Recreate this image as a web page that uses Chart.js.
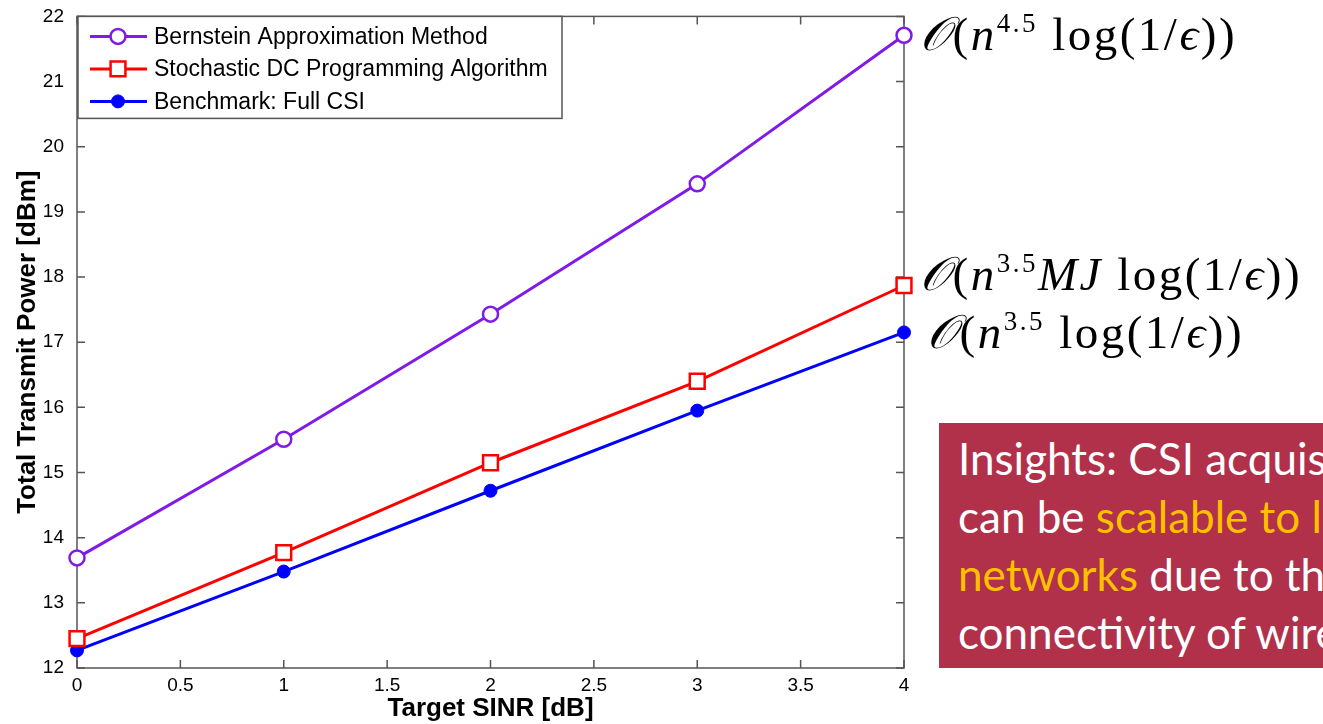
<!DOCTYPE html>
<html>
<head>
<meta charset="utf-8">
<script src="https://cdn.jsdelivr.net/npm/chart.js@4.4.1/dist/chart.umd.min.js"></script>
<style>
  html, body { margin: 0; padding: 0; background: #fff; overflow: hidden; }
  #wrap { position: relative; width: 1323px; height: 724px; overflow: hidden; }
  #insight {
    position: absolute; left: 939px; top: 423px; width: 420px; height: 245px;
    background: #b1304a; color: #fff; font-family: Lato, "Open Sans", sans-serif;
    font-size: 44px; line-height: 58px; padding: 6px 0 0 19px; box-sizing: border-box;
    white-space: nowrap; overflow: hidden;
  }
  .hl { color: #ffc000; }
</style>
</head>
<body>
<div id="wrap">
  <canvas id="chart" width="1323" height="724"></canvas>
  <div id="insight">
    Insights: CSI acquisition<br>
    can be <span class="hl">scalable to large</span><br>
    <span class="hl">networks</span> due to the<br>
    connectivity of wireless
  </div>
</div>
<script>
// data
const sinr = [0, 1, 2, 3, 4];
const bernstein = [13.69, 15.51, 17.43, 19.43, 21.71];
const stochasticDC = [12.45, 13.77, 15.15, 16.40, 17.87];
const fullCSI = [12.27, 13.48, 14.72, 15.95, 17.15];
const seriesNames = [
  "Bernstein Approximation Method",
  "Stochastic DC Programming Algorithm",
  "Benchmark: Full CSI",
];
const xTitle = "Target SINR [dB]";
const yTitle = "Total Transmit Power [dBm]";

const AXIS = "#555";
const TICK_FONT = { family: "'Liberation Sans', Arial, sans-serif", size: 19 };
const TITLE_FONT = { family: "'Liberation Sans', Arial, sans-serif", size: 26, weight: "bold", lineHeight: 1.2 };

function toPoints(ys) {
  return ys.map((y, i) => ({ x: sinr[i], y: y }));
}

// MATLAB style box with inward ticks
const boxPlugin = {
  id: "box",
  beforeDatasetsDraw(chart) {
    const { ctx, chartArea: a, scales } = chart;
    ctx.save();
    ctx.strokeStyle = AXIS;
    ctx.lineWidth = 1.5;
    const len = 8;
    scales.x.ticks.forEach((t) => {
      const px = scales.x.getPixelForValue(t.value);
      ctx.beginPath();
      ctx.moveTo(px, a.bottom); ctx.lineTo(px, a.bottom - len);
      ctx.moveTo(px, a.top); ctx.lineTo(px, a.top + len);
      ctx.stroke();
    });
    scales.y.ticks.forEach((t) => {
      const py = scales.y.getPixelForValue(t.value);
      ctx.beginPath();
      ctx.moveTo(a.left, py); ctx.lineTo(a.left + len, py);
      ctx.moveTo(a.right, py); ctx.lineTo(a.right - len, py);
      ctx.stroke();
    });
    ctx.strokeRect(a.left, a.top, a.right - a.left, a.bottom - a.top);
    ctx.restore();
  },
};

const legendPlugin = {
  id: "boxLegend",
  afterDatasetsDraw(chart) {
    const ctx = chart.ctx;
    const a = chart.chartArea;
    const x0 = a.left + 1, y0 = a.top, w = 484, h = 102;
    ctx.save();
    ctx.fillStyle = "#fff";
    ctx.fillRect(x0, y0, w, h);
    ctx.strokeStyle = AXIS;
    ctx.lineWidth = 1.5;
    ctx.strokeRect(x0, y0, w, h);
    ctx.font = "23px 'Liberation Sans', Arial, sans-serif";
    ctx.textBaseline = "middle";
    chart.data.datasets.forEach((ds, i) => {
      const cy = y0 + 20 + i * 32.5;
      ctx.strokeStyle = ds.borderColor;
      ctx.lineWidth = ds.borderWidth;
      ctx.beginPath();
      ctx.moveTo(x0 + 12, cy); ctx.lineTo(x0 + 69, cy);
      ctx.stroke();
      ctx.fillStyle = ds.pointBackgroundColor;
      ctx.strokeStyle = ds.borderColor;
      ctx.lineWidth = ds.pointBorderWidth;
      ctx.beginPath();
      if (ds.pointStyle === "circle") {
        ctx.arc(x0 + 40, cy, ds.pointRadius, 0, Math.PI * 2);
      } else {
        const s = Math.SQRT1_2 * ds.pointRadius;
        ctx.rect(x0 + 40 - s, cy - s, 2 * s, 2 * s);
      }
      ctx.fill();
      ctx.stroke();
      ctx.fillStyle = "#000";
      ctx.fillText(ds.label, x0 + 76, cy + 1);
    });
    ctx.restore();
  },
};

// complexity notes on the right of the axes
const notes = [
  { x: 920, y: 50, parts: [["𝒪", "i"], ["(", "r"], ["n", "i"], ["4.5", "s"], [" log(1/", "r"], ["ϵ", "i"], ["))", "r"]] },
  { x: 920, y: 290, parts: [["𝒪", "i"], ["(", "r"], ["n", "i"], ["3.5", "s"], ["MJ", "i"], [" log(1/", "r"], ["ϵ", "i"], ["))", "r"]] },
  { x: 927, y: 348, parts: [["𝒪", "i"], ["(", "r"], ["n", "i"], ["3.5", "s"], [" log(1/", "r"], ["ϵ", "i"], ["))", "r"]] },
];

const notesPlugin = {
  id: "notes",
  afterDraw(chart) {
    const ctx = chart.ctx;
    const fam = "'Liberation Serif', 'DejaVu Serif', serif";
    ctx.save();
    ctx.fillStyle = "#000";
    ctx.textBaseline = "alphabetic";
    notes.forEach((n) => {
      let x = n.x;
      n.parts.forEach(([txt, kind]) => {
        let dy = 0;
        if (kind === "s") { ctx.font = "27px " + fam; dy = -18; }
        else if (kind === "i") ctx.font = "italic 47px " + fam;
        else ctx.font = "47px " + fam;
        for (const ch of txt) {
          ctx.fillText(ch, x, n.y + dy);
          x += ctx.measureText(ch).width + 2.5;
        }
      });
    });
    ctx.restore();
  },
};

const tickFormat = (v) => String(Number(v));

new Chart(document.getElementById("chart"), {
  type: "line",
  data: {
    datasets: [
      {
        label: seriesNames[0],
        data: toPoints(bernstein),
        borderColor: "#801ae6",
        borderWidth: 3,
        pointStyle: "circle",
        pointRadius: 7.5,
        pointBorderWidth: 2.5,
        pointBackgroundColor: "#fff",
        pointBorderColor: "#801ae6",
        clip: false,
      },
      {
        label: seriesNames[1],
        data: toPoints(stochasticDC),
        borderColor: "#ff0000",
        borderWidth: 3,
        pointStyle: "rect",
        pointRadius: 10.5,
        pointBorderWidth: 2.5,
        pointBackgroundColor: "#fff",
        pointBorderColor: "#ff0000",
        clip: false,
      },
      {
        label: seriesNames[2],
        data: toPoints(fullCSI),
        borderColor: "#0000ff",
        borderWidth: 3,
        pointStyle: "circle",
        pointRadius: 6.5,
        pointBorderWidth: 1,
        pointBackgroundColor: "#0000ff",
        pointBorderColor: "#0000ff",
        clip: false,
      },
    ],
  },
  options: {
    responsive: false,
    animation: false,
    layout: { padding: { top: 16, right: 419, left: 0, bottom: 0 } },
    plugins: { legend: { display: false }, tooltip: { enabled: false } },
    scales: {
      x: {
        type: "linear",
        min: 0,
        max: 4,
        grid: { display: false },
        border: { display: false },
        ticks: { stepSize: 0.5, color: "#000", font: TICK_FONT, padding: -2, maxRotation: 0, callback: tickFormat },
        title: { display: true, text: xTitle, color: "#000", font: TITLE_FONT, padding: { top: 0, bottom: 0 } },
        afterFit: (s) => { s.height = 56; },
      },
      y: {
        min: 12,
        max: 22,
        grid: { display: false },
        border: { display: false },
        ticks: { stepSize: 1, color: "#000", font: TICK_FONT, padding: 5, callback: tickFormat },
        title: { display: true, text: yTitle, color: "#000", font: TITLE_FONT, padding: { top: 12, bottom: 0 } },
        afterFit: (s) => { s.width = 77; },
      },
    },
  },
  plugins: [boxPlugin, legendPlugin, notesPlugin],
});
</script>
</body>
</html>
